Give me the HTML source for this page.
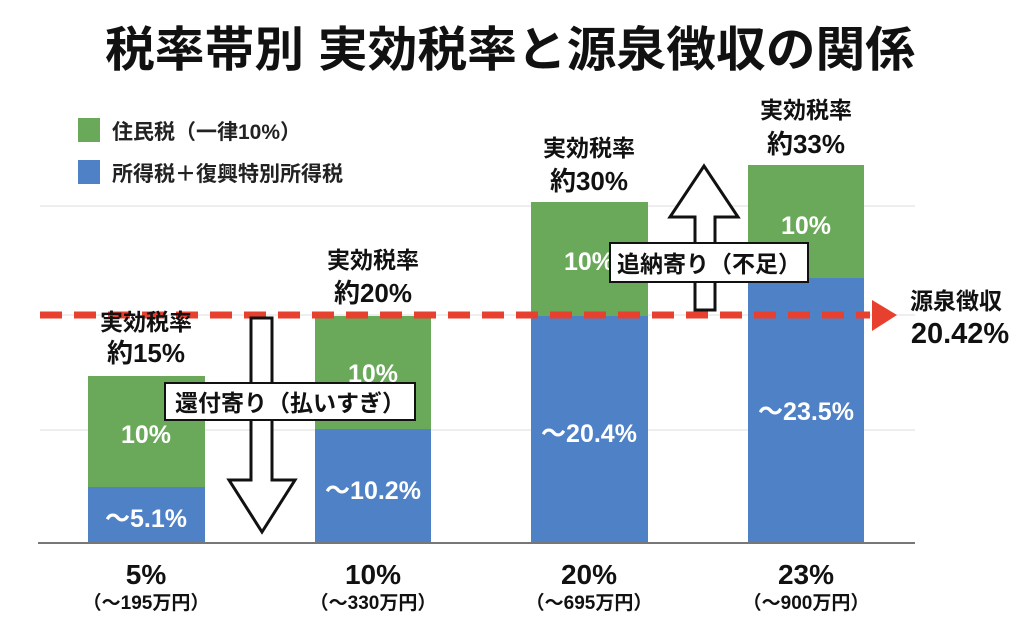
<!DOCTYPE html>
<html><head><meta charset="utf-8"><style>
body{margin:0;background:#fff;}
svg text{font-family:"Liberation Sans","Noto Sans CJK JP",sans-serif;font-weight:bold;}
</style></head><body>
<svg width="1024" height="623" viewBox="0 0 1024 623" xmlns="http://www.w3.org/2000/svg">
<rect width="1024" height="623" fill="#fff"/>
<text x="510" y="66" font-size="48" text-anchor="middle" fill="#111" textLength="810" lengthAdjust="spacingAndGlyphs">税率帯別 実効税率と源泉徴収の関係</text>
<rect x="78" y="118" width="22" height="24" fill="#6aa95a"/>
<text x="112" y="139" font-size="21" fill="#222">住民税（一律10%）</text>
<rect x="78" y="160" width="22" height="24" fill="#4f81c6"/>
<text x="112" y="181" font-size="21" fill="#222">所得税＋復興特別所得税</text>
<g stroke="#ddd" stroke-width="1">
<line x1="40" y1="206" x2="915" y2="206"/>
<line x1="40" y1="315" x2="915" y2="315"/>
<line x1="40" y1="430" x2="915" y2="430"/>
</g>
<g fill="#6aa95a">
<rect x="88" y="376" width="117" height="112"/>
<rect x="315" y="316" width="116" height="114"/>
<rect x="531" y="202" width="117" height="115"/>
<rect x="748" y="165" width="116" height="114"/>
</g>
<g fill="#4f81c6">
<rect x="88" y="487" width="117" height="56"/>
<rect x="315" y="429" width="116" height="114"/>
<rect x="531" y="316" width="117" height="227"/>
<rect x="748" y="278" width="116" height="265"/>
</g>
<line x1="38" y1="543" x2="915" y2="543" stroke="#777" stroke-width="2"/>
<line x1="40" y1="315" x2="870" y2="315" stroke="#e8402e" stroke-width="7" stroke-dasharray="22,12"/>
<polygon points="872,300 897,315 872,331" fill="#e8402e"/>
<g fill="#fff" font-size="25" text-anchor="middle" style="font-weight:normal">
<text x="146" y="443">10%</text><text x="146" y="527">～5.1%</text>
<text x="373" y="382">10%</text><text x="373" y="499">～10.2%</text>
<text x="589" y="270">10%</text><text x="589" y="442">～20.4%</text>
<text x="806" y="234">10%</text><text x="806" y="420">～23.5%</text>
</g>
<polygon points="251,318 272,318 272,480 295,480 262,532 229,480 251,480" fill="#fff" stroke="#111" stroke-width="3"/>
<polygon points="695,310 715,310 715,217 738,217 704,166 670,217 695,217" fill="#fff" stroke="#111" stroke-width="3"/>
<rect x="165" y="383" width="250" height="37" fill="#fff" stroke="#111" stroke-width="2"/>
<text x="290" y="411" font-size="23" text-anchor="middle" fill="#111">還付寄り（払いすぎ）</text>
<rect x="610" y="243" width="198" height="39" fill="#fff" stroke="#111" stroke-width="2"/>
<text x="709" y="272" font-size="23" text-anchor="middle" fill="#111">追納寄り（不足）</text>
<g fill="#111" text-anchor="middle">
<text x="146" y="330" font-size="23">実効税率</text><text x="146" y="362" font-size="26">約15%</text>
<text x="373" y="268" font-size="23">実効税率</text><text x="373" y="302" font-size="26">約20%</text>
<text x="589" y="156" font-size="23">実効税率</text><text x="589" y="190" font-size="26">約30%</text>
<text x="806" y="118" font-size="23">実効税率</text><text x="806" y="153" font-size="26">約33%</text>
<text x="956" y="309" font-size="23">源泉徴収</text><text x="960" y="343" font-size="29">20.42%</text>
<text x="146" y="584" font-size="28">5%</text><text x="146" y="609" font-size="19">（～195万円）</text>
<text x="373" y="584" font-size="28">10%</text><text x="373" y="609" font-size="19">（～330万円）</text>
<text x="589" y="584" font-size="28">20%</text><text x="589" y="609" font-size="19">（～695万円）</text>
<text x="806" y="584" font-size="28">23%</text><text x="806" y="609" font-size="19">（～900万円）</text>
</g>
</svg>
</body></html>
